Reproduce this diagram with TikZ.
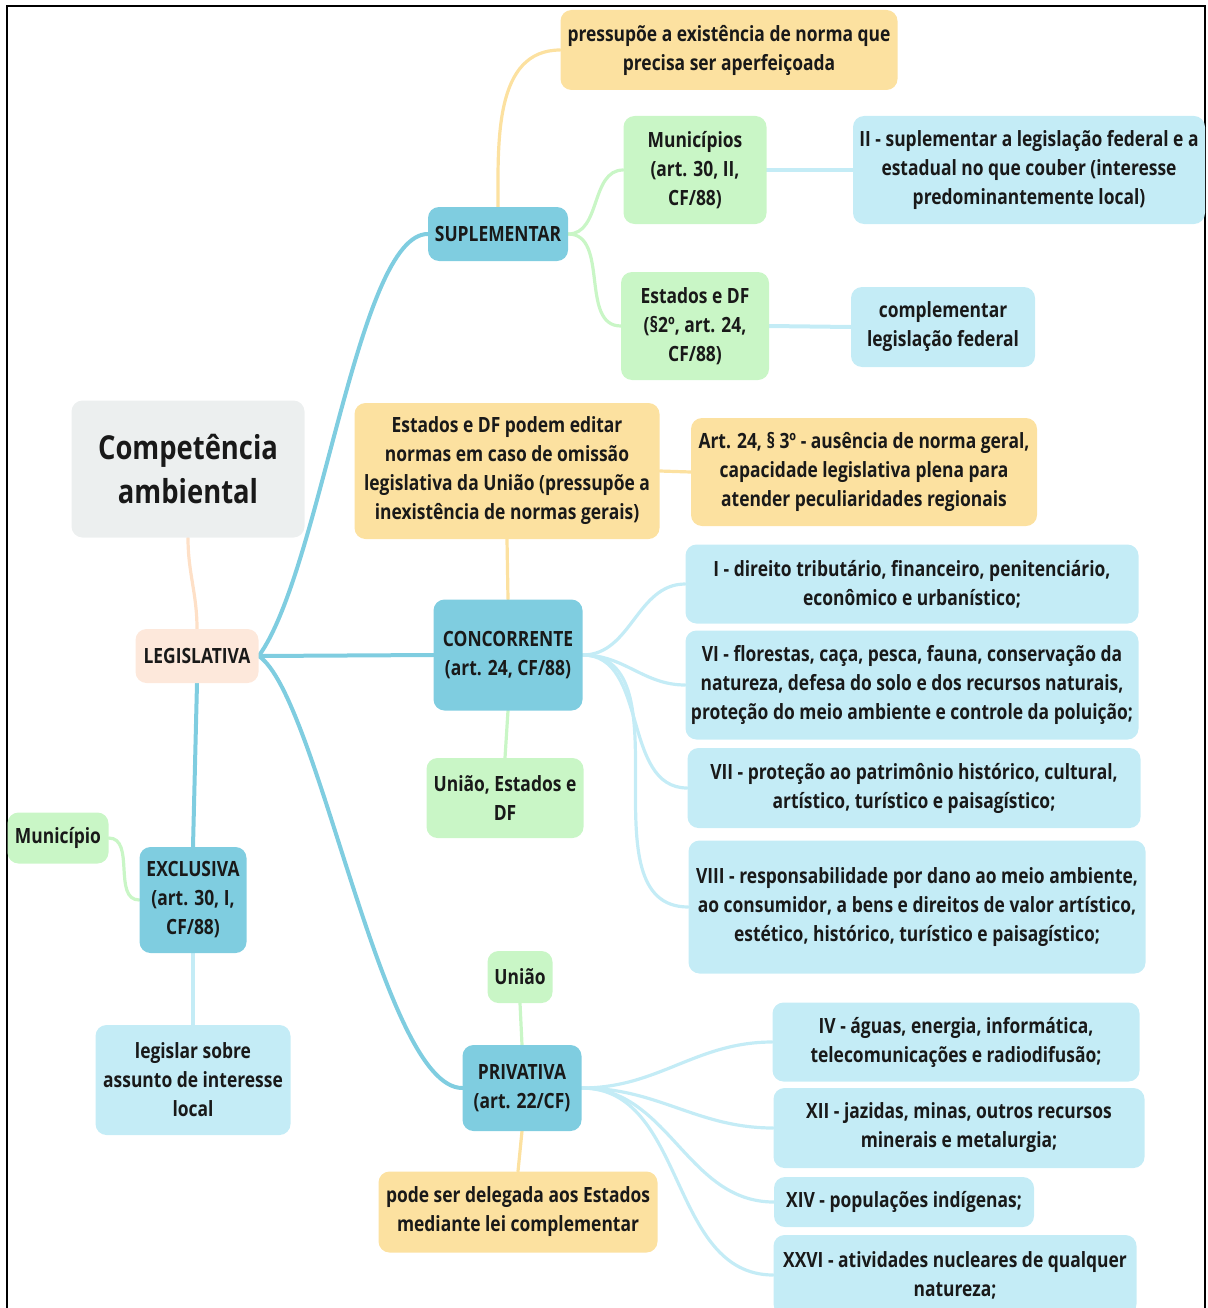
\documentclass[tikz,border=0pt]{standalone}
\usepackage{fontspec}
\setmainfont{Open Sans}[FakeStretch=0.83]
\usetikzlibrary{positioning}
\definecolor{azul}{HTML}{7FCDE0}
\definecolor{azulclaro}{HTML}{C4ECF6}
\definecolor{verde}{HTML}{C9F6C6}
\definecolor{laranja}{HTML}{FCE1A0}
\definecolor{pessego}{HTML}{FDE8DB}
\definecolor{cinza}{HTML}{ECEFEF}
\pgfdeclarelayer{background}
\pgfsetlayers{background,main}
\tikzset{
    box/.style={rounded corners=11pt, align=center, inner sep=4pt, text=black!90,
        font=\bfseries\fontsize{21}{29}\selectfont},
    branch/.style={box, fill=azul},
    leaf/.style={box, fill=azulclaro},
    actor/.style={box, fill=verde},
    note/.style={box, fill=laranja},
    link/.style={line width=3.2pt, line cap=round}
}

\begin{document}
\begin{tikzpicture}[x=1pt, y=-1pt]
    \useasboundingbox (0,0) rectangle (1207,1308);
    \draw[line width=2pt] (7,1310) -- (7,6) -- (1205,6) -- (1205,1310);

    % root and main branch
    \node[box, fill=cinza, minimum width=233, minimum height=137,
          font=\bfseries\fontsize{33}{44}\selectfont] (comp) at (188,469) {Competência\\ambiental};
    \node[box, fill=pessego, minimum width=123, minimum height=54] (leg) at (197,656) {LEGISLATIVA};

    % suplementar
    \node[branch, minimum width=140, minimum height=54] (sup) at (498,234) {SUPLEMENTAR};
    \node[note, minimum width=337, minimum height=80] (pre) at (729,50) {pressupõe a existência de norma que\\precisa ser aperfeiçoada};
    \node[actor, minimum width=143, minimum height=108] (mun) at (695,170) {Municípios\\(art. 30, II,\\CF/88)};
    \node[leaf, minimum width=352, minimum height=108] (supmun) at (1029,170) {II - suplementar a legislação federal e a\\estadual no que couber (interesse\\predominantemente local)};
    \node[actor, minimum width=148, minimum height=108] (est) at (695,326) {Estados e DF\\(§2º, art. 24,\\CF/88)};
    \node[leaf, minimum width=184, minimum height=80] (compl) at (943,327) {complementar\\legislação federal};

    % concorrente
    \node[note, minimum width=305, minimum height=136] (omis) at (507,471) {Estados e DF podem editar\\normas em caso de omissão\\legislativa da União (pressupõe a\\inexistência de normas gerais)};
    \node[note, minimum width=346, minimum height=108] (plena) at (864,472) {Art. 24, § 3º - ausência de norma geral,\\capacidade legislativa plena para\\atender peculiaridades regionais};
    \node[branch, minimum width=149, minimum height=111] (conc) at (508,655) {CONCORRENTE\\(art. 24, CF/88)};
    \node[actor, minimum width=157, minimum height=80] (uedf) at (505,798) {União, Estados e\\DF};
    \node[leaf, minimum width=453, minimum height=79] (ci) at (912,584) {I - direito tributário, financeiro, penitenciário,\\econômico e urbanístico;};
    \node[leaf, minimum width=453, minimum height=109] (cvi) at (912,685) {VI - florestas, caça, pesca, fauna, conservação da\\natureza, defesa do solo e dos recursos naturais,\\proteção do meio ambiente e controle da poluição;};
    \node[leaf, minimum width=453, minimum height=80] (cvii) at (914,788) {VII - proteção ao patrimônio histórico, cultural,\\artístico, turístico e paisagístico;};
    \node[leaf, minimum width=457, minimum height=133] (cviii) at (917,907) {VIII - responsabilidade por dano ao meio ambiente,\\ao consumidor, a bens e direitos de valor artístico,\\estético, histórico, turístico e paisagístico;};

    % exclusiva
    \node[branch, minimum width=107, minimum height=106] (exc) at (193,900) {EXCLUSIVA\\(art. 30, I,\\CF/88)};
    \node[actor, minimum width=101, minimum height=51] (muni) at (58,838) {Município};
    \node[leaf, minimum width=195, minimum height=110] (local) at (193,1080) {legislar sobre\\assunto de interesse\\local};

    % privativa
    \node[branch, minimum width=119, minimum height=86] (priv) at (522,1088) {PRIVATIVA\\(art. 22/CF)};
    \node[actor, minimum width=65, minimum height=52] (uniao) at (520,977) {União};
    \node[note, minimum width=279, minimum height=81] (deleg) at (518,1212) {pode ser delegada aos Estados\\mediante lei complementar};
    \node[leaf, minimum width=367, minimum height=79] (piv) at (956,1042) {IV - águas, energia, informática,\\telecomunicações e radiodifusão;};
    \node[leaf, minimum width=371, minimum height=80] (pxii) at (959,1128) {XII - jazidas, minas, outros recursos\\minerais e metalurgia;};
    \node[leaf, minimum width=260, minimum height=50] (pxiv) at (904,1202) {XIV - populações indígenas;};
    \node[leaf, minimum width=363, minimum height=80] (pxxvi) at (955,1275) {XXVI - atividades nucleares de qualquer\\natureza;};

    \begin{pgfonlayer}{background}
        \draw[link, pessego!80!orange!70] (comp.south) to[out=-90,in=90] (leg.north);
        \draw[link, azul, line width=4pt] (leg.east) .. controls +(62,-85) and +(-70,0) .. (sup.west);
        \draw[link, azul, line width=4pt] (leg.east) -- (conc.west);
        \draw[link, azul, line width=4pt] (leg.east) .. controls +(60,40) and +(-80,0) .. (priv.west);
        \draw[link, azul, line width=4pt] (leg.south) -- (exc.north);

        \draw[link, laranja] (sup.north) to[out=90,in=180] (pre.west);
        \draw[link, verde] (sup.east) to[out=0,in=180] (mun.west);
        \draw[link, verde] (sup.east) to[out=0,in=180] (est.west);
        \draw[link, azulclaro, line width=4pt] (mun.east) -- (supmun.west);
        \draw[link, azulclaro, line width=4pt] (est.east) -- (compl.west);

        \draw[link, laranja] (omis.south) -- (conc.north);
        \draw[link, laranja] (omis.east) -- (plena.west);
        \draw[link, verde] (conc.south) -- (uedf.north);
        \draw[link, azulclaro] (conc.east) to[out=0,in=180] (ci.west);
        \draw[link, azulclaro] (conc.east) to[out=0,in=180] (cvi.west);
        \draw[link, azulclaro] (conc.east) to[out=0,in=180] (cvii.west);
        \draw[link, azulclaro] (conc.east) to[out=0,in=180] (cviii.west);

        \draw[link, verde] (exc.west) to[out=180,in=0] (muni.east);
        \draw[link, azulclaro] (exc.south) -- (local.north);

        \draw[link, verde] (priv.north) -- (uniao.south);
        \draw[link, laranja] (priv.south) -- (deleg.north);
        \draw[link, azulclaro] (priv.east) to[out=0,in=180] (piv.west);
        \draw[link, azulclaro] (priv.east) to[out=0,in=180] (pxii.west);
        \draw[link, azulclaro] (priv.east) to[out=0,in=180] (pxiv.west);
        \draw[link, azulclaro] (priv.east) to[out=0,in=180] (pxxvi.west);
    \end{pgfonlayer}
\end{tikzpicture}
\end{document}
